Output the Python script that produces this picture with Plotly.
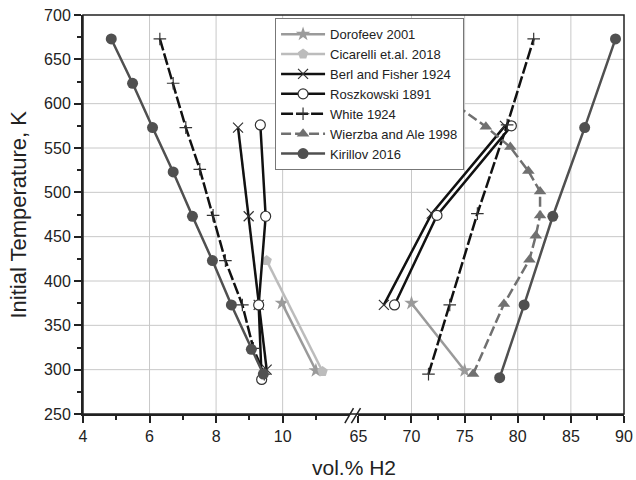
import plotly.graph_objects as go

FONT = "Liberation Sans, Arial, sans-serif"
GRID = "#c8c8c8"

# x = vol.% H2, T = initial temperature (K); "_lo" on the 4-12 axis, "_hi" on 65-90
dorofeev_x_lo = [9.98, 11.0]
dorofeev_t_lo = [375, 299]
dorofeev_x_hi = [70.0, 75.0]
dorofeev_t_hi = [375, 299]

cicarelli_x_lo = [9.52, 11.2]
cicarelli_t_lo = [423, 298]

berl_x_lo = [8.66, 8.98, 9.28, 9.52]
berl_t_lo = [573, 473, 373, 300]
berl_x_hi = [67.4, 71.9, 78.8]
berl_t_hi = [373, 476, 575]

rosz_x_lo = [9.33, 9.49, 9.28, 9.37]
rosz_t_lo = [576, 473, 373, 289]
rosz_x_hi = [68.4, 72.4, 79.4]
rosz_t_hi = [373, 474, 575]

white_x_lo = [6.31, 6.71, 7.09, 7.51, 7.91, 8.28, 8.79, 9.12, 9.45]
white_t_lo = [673, 623, 573, 526, 474, 423, 373, 324, 295]
white_x_hi = [71.6, 73.6, 76.2, 79.0, 81.5]
white_t_hi = [295, 373, 476, 576, 673]

wierzba_x_hi = [75.8, 78.7, 81.1, 81.7, 82.1, 82.1, 81.0, 79.3, 77.0, 74.0]
wierzba_t_hi = [295, 374, 424, 451, 474, 501, 524, 551, 574, 600]

kirillov_x_lo = [4.85, 5.49, 6.09, 6.71, 7.29, 7.89, 8.46, 9.06, 9.42]
kirillov_t_lo = [673, 623, 573, 523, 473, 423, 373, 323, 295]
kirillov_x_hi = [78.3, 80.6, 83.3, 86.3, 89.2]
kirillov_t_hi = [291, 373, 473, 573, 673]

x_lo_ticks = [4, 6, 8, 10]
x_hi_ticks = [65, 70, 75, 80, 85, 90]

SERIES = [
    # name, color, dash, marker, parts
    ("Dorofeev 2001", "#9a9a9a", "solid",
     dict(symbol="star", size=11, color="#9a9a9a"),
     [("x", dorofeev_x_lo, dorofeev_t_lo), ("x2", dorofeev_x_hi, dorofeev_t_hi)]),
    ("Cicarelli et.al. 2018", "#bcbcbc", "solid",
     dict(symbol="pentagon", size=11, color="#bcbcbc"),
     [("x", cicarelli_x_lo, cicarelli_t_lo)]),
    ("Berl and Fisher 1924", "#111111", "solid",
     dict(symbol="x-thin-open", size=10, color="#333333", line=dict(width=1.2, color="#333333")),
     [("x", berl_x_lo, berl_t_lo), ("x2", berl_x_hi, berl_t_hi)]),
    ("Roszkowski 1891", "#111111", "solid",
     dict(symbol="circle", size=10, color="white", line=dict(width=1.2, color="#333333")),
     [("x", rosz_x_lo, rosz_t_lo), ("x2", rosz_x_hi, rosz_t_hi)]),
    ("White 1924", "#111111", "12px,3px",
     dict(symbol="cross-thin-open", size=9, color="#333333", line=dict(width=1.2, color="#333333")),
     [("x", white_x_lo, white_t_lo), ("x2", white_x_hi, white_t_hi)]),
    ("Wierzba and Ale 1998", "#707070", "10px,4px",
     dict(symbol="triangle-up", size=11, color="#707070"),
     [("x2", wierzba_x_hi, wierzba_t_hi)]),
    ("Kirillov 2016", "#505050", "solid",
     dict(symbol="circle", size=11, color="#505050"),
     [("x", kirillov_x_lo, kirillov_t_lo), ("x2", kirillov_x_hi, kirillov_t_hi)]),
]


def _add_series(fig):
    for name, color, dash, marker, parts in SERIES:
        for i, (xa, xs, ts) in enumerate(parts):
            fig.add_trace(go.Scatter(
                x=xs, y=ts, xaxis=xa, yaxis="y", mode="lines+markers",
                name=name, legendgroup=name, showlegend=(i == 0),
                line=dict(color=color, width=2.5, dash=dash),
                marker=marker,
            ))


def _add_grid(fig):
    for v in [6, 8, 10]:
        fig.add_shape(type="line", xref="x", yref="paper", x0=v, x1=v, y0=0, y1=1,
                      line=dict(color=GRID, width=1), layer="below")
    for v in [70, 75, 80, 85]:
        fig.add_shape(type="line", xref="x2", yref="paper", x0=v, x1=v, y0=0, y1=1,
                      line=dict(color=GRID, width=1), layer="below")
    for v in range(300, 700, 50):
        fig.add_shape(type="line", xref="paper", yref="y", x0=0, x1=1, y0=v, y1=v,
                      line=dict(color=GRID, width=1), layer="below")


def _add_frame_and_break(fig):
    fig.add_shape(type="rect", xref="paper", yref="paper", x0=0, x1=1, y0=0, y1=1,
                  line=dict(color="#222", width=1.5))
    for x0, x1 in ((0.484, 0.500), (0.496, 0.513)):
        fig.add_shape(type="line", xref="paper", yref="paper", x0=x0, x1=x1,
                      y0=-0.023, y1=0.015, line=dict(color="#222", width=1.5))


def _axis_common():
    return dict(
        showline=True, linecolor="#222", linewidth=2, mirror=False,
        ticks="outside", ticklen=7, tickwidth=1.5, tickcolor="#222",
        showgrid=False, zeroline=False, automargin=False,
        tickfont=dict(family=FONT, size=16, color="#222"),
    )


fig = go.Figure()
_add_series(fig)
_add_grid(fig)
_add_frame_and_break(fig)

fig.update_layout(
    width=636, height=480,
    margin=dict(l=83, r=12, t=15, b=66, autoexpand=False),
    plot_bgcolor="white", paper_bgcolor="white",
    font=dict(family=FONT, color="#222"),
    xaxis=dict(domain=[0, 0.492], range=[4, 12], anchor="y", tickvals=x_lo_ticks,
               minor=dict(tickvals=[5, 7, 9, 11], ticks="outside", ticklen=4, tickcolor="#222"),
               **_axis_common()),
    xaxis2=dict(domain=[0.509, 1], range=[65, 90], anchor="y", tickvals=x_hi_ticks,
                minor=dict(tickvals=[67.5, 72.5, 77.5, 82.5, 87.5], ticks="outside",
                           ticklen=4, tickcolor="#222"),
                **_axis_common()),
    yaxis=dict(range=[250, 700], anchor="x", dtick=50, tick0=250,
               minor=dict(dtick=25, ticks="outside", ticklen=4, tickcolor="#222"),
               **_axis_common()),
    legend=dict(x=0.355, y=0.992, xanchor="left", yanchor="top",
                bgcolor="white", bordercolor="#777", borderwidth=1,
                font=dict(family=FONT, size=13, color="#222"),
                tracegroupgap=0, itemwidth=44),
    annotations=[
        dict(text="vol.% H2", xref="paper", yref="paper", x=0.5, y=-0.135,
             xanchor="center", yanchor="middle", showarrow=False,
             font=dict(family=FONT, size=21, color="#222")),
        dict(text="Initial Temperature, K", xref="paper", yref="paper", x=-0.12, y=0.5,
             xanchor="center", yanchor="middle", textangle=-90, showarrow=False,
             font=dict(family=FONT, size=22, color="#222")),
    ],
)

fig.write_html("out.html", config={"displayModeBar": False},
               post_script="document.body.style.margin='0';")
